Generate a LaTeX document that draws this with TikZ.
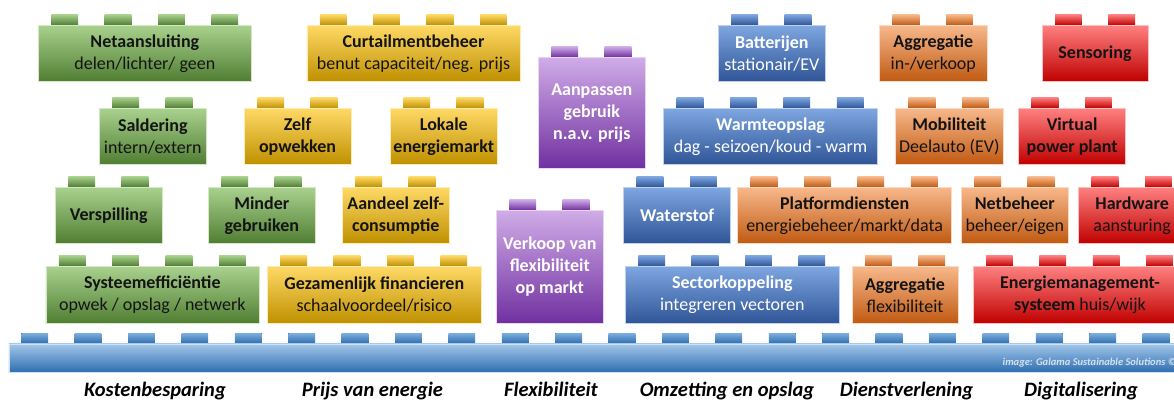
\documentclass[tikz,border=0pt]{standalone}
\usepackage{fontspec}
\setmainfont{Carlito}
\definecolor{gT}{HTML}{A9D18E}\definecolor{gM}{HTML}{70AD47}\definecolor{gB}{HTML}{507E32}
\definecolor{yT}{HTML}{FFD966}\definecolor{yM}{HTML}{FFC000}\definecolor{yB}{HTML}{BF9000}
\definecolor{pT}{HTML}{D0ACE8}\definecolor{pM}{HTML}{A05ACF}\definecolor{pB}{HTML}{7030A0}
\definecolor{bT}{HTML}{7EA6E0}\definecolor{bM}{HTML}{4472C4}\definecolor{bB}{HTML}{2F5597}
\definecolor{oT}{HTML}{F8B88B}\definecolor{oM}{HTML}{ED7D31}\definecolor{oB}{HTML}{C05A12}
\definecolor{rT}{HTML}{FF8080}\definecolor{rM}{HTML}{FF1A1A}\definecolor{rB}{HTML}{C00000}
\definecolor{lT}{HTML}{A2C6EA}\definecolor{lM}{HTML}{5B9BD5}\definecolor{lB}{HTML}{2E6EAF}
\definecolor{wmark}{HTML}{D5E1EF}
\definecolor{ink}{HTML}{141414}
\tikzset{
  brickbase/.style={inner sep=0pt, align=center, line width=0.6pt,
    font=\fontsize{18}{22}\selectfont},
  gbody/.style={top color=gT, middle color=gM, bottom color=gB, draw=gT!50!white, text=ink},
  ybody/.style={top color=yT, middle color=yM, bottom color=yB, draw=yT!50!white, text=ink},
  pbody/.style={top color=pT, middle color=pM, bottom color=pB, draw=pT!50!white, text=white},
  bbody/.style={top color=bT, middle color=bM, bottom color=bB, draw=bT!50!white, text=white},
  obody/.style={top color=oT, middle color=oM, bottom color=oB, draw=oT!50!white, text=ink},
  rbody/.style={top color=rT, middle color=rM, bottom color=rB, draw=rT!50!white, text=ink},
  gstud/.style={top color=gT, bottom color=gB},
  ystud/.style={top color=yT, bottom color=yB},
  pstud/.style={top color=pT, bottom color=pB},
  bstud/.style={top color=bT, bottom color=bB},
  ostud/.style={top color=oT, bottom color=oB},
  rstud/.style={top color=rT, bottom color=rB},
  lstud/.style={top color=lM!80!white, bottom color=lB},
  catlabel/.style={anchor=base, font=\fontsize{20.5}{24}\selectfont\bfseries\itshape, text=black},
}
% #1 name, #2 colour key, #3 x, #4 y, #5 width, #6 height, #7 studs, #8 text
\newcommand\brick[8]{%
  \foreach \k in {1,...,#7}{\fill[#2stud] ({#3+13.3+(\k-1)*53.4},{#4-10.5}) rectangle ++(26.7,10.5);}
  \node[brickbase,#2body,minimum width=#5pt,minimum height=#6pt,anchor=north west] (#1) at (#3,#4) {#8};
}
\begin{document}
\begin{tikzpicture}[x=1pt,y=-1pt]
\useasboundingbox (0,0) rectangle (1174,400);
\clip (0,0) rectangle (1174,400);
% row 1
\brick{neta}{g}{38}{25}{213}{56}{4}{\textbf{Netaansluiting}\\delen/lichter/ geen}
\brick{curt}{y}{306.5}{25}{213.5}{56}{4}{\textbf{Curtailmentbeheer}\\benut capaciteit/neg. prijs}
\brick{aanp}{p}{538}{57}{107}{111}{2}{\bfseries Aanpassen\\\bfseries gebruik\\\bfseries n.a.v. prijs}
\brick{batt}{b}{718}{25}{107}{56}{2}{\textbf{Batterijen}\\stationair/EV}
\brick{aggra}{o}{879.3}{25}{107.4}{56}{2}{\textbf{Aggregatie}\\in-/verkoop}
\brick{sens}{r}{1041.7}{25}{106}{56}{2}{\textbf{Sensoring}}
% row 2
\brick{sald}{g}{99}{108}{107}{56}{2}{\textbf{Saldering}\\intern/extern}
\brick{zelf}{y}{244}{108}{106.5}{56}{2}{\bfseries Zelf\\\bfseries opwekken}
\brick{lok}{y}{390}{108}{107}{56}{2}{\bfseries Lokale\\\bfseries energiemarkt}
\brick{warm}{b}{663.3}{108}{214}{56}{4}{\textbf{Warmteopslag}\\dag - seizoen/koud - warm}
\brick{mob}{o}{895.3}{108}{107.4}{56}{2}{\textbf{Mobiliteit}\\Deelauto (EV)}
\brick{vpp}{r}{1018.3}{108}{107}{56}{2}{\bfseries Virtual\\\bfseries power plant}
% row 3
\brick{versp}{g}{55}{187}{107}{56}{2}{\textbf{Verspilling}}
\brick{mind}{g}{208}{187}{107}{56}{2}{\bfseries Minder\\\bfseries gebruiken}
\brick{aand}{y}{342}{187}{107}{56}{2}{\bfseries Aandeel zelf-\\\bfseries consumptie}
\brick{verk}{p}{496}{210}{107}{113}{2}{\bfseries Verkoop van\\\bfseries flexibiliteit\\\bfseries op markt}
\brick{wat}{b}{623.3}{187}{107}{56}{2}{\textbf{Waterstof}}
\brick{plat}{o}{737.3}{187}{214}{56}{4}{\textbf{Platformdiensten}\\energiebeheer/markt/data}
\brick{netb}{o}{961}{187}{107}{56}{2}{\textbf{Netbeheer}\\beheer/eigen}
\brick{hard}{r}{1078.3}{187}{107}{56}{2}{\textbf{Hardware}\\aansturing}
% row 4
\brick{syst}{g}{45.5}{266}{213}{57}{4}{\textbf{Systeemefficiëntie}\\opwek / opslag / netwerk}
\brick{gez}{y}{267}{266}{214}{57}{4}{\textbf{Gezamenlijk financieren}\\schaalvoordeel/risico}
\brick{sect}{b}{625}{266}{214}{57}{4}{\textbf{Sectorkoppeling}\\integreren vectoren}
\brick{aggrb}{o}{851.7}{266}{106}{57}{2}{\textbf{Aggregatie}\\flexibiliteit}
\brick{ems}{r}{972.7}{266}{214}{57}{4}{\textbf{Energiemanagement-}\\\textbf{systeem} huis/wijk}
% base plate
\foreach \k in {0,...,21}{\fill[lstud] ({21.3+\k*53.4},333) rectangle ++(26.7,10.5);}
\node[inner sep=0pt, minimum width=1180pt, minimum height=28.5pt, anchor=north west,
  top color=lT, middle color=lM, bottom color=lB, draw=lT!50!white, line width=0.6pt] (base) at (8.6,343.5) {};
\node[anchor=base west, inner sep=0pt, text=wmark,
  font=\fontsize{10.5}{12}\selectfont\bfseries\itshape] (wm) at (1002.5,365.7) {image: Galama Sustainable Solutions ©};
% category labels
\node[catlabel] (kost) at (155,396) {Kostenbesparing};
\node[catlabel] (prijs) at (372.5,396) {Prijs van energie};
\node[catlabel] (flex) at (551,396) {Flexibiliteit};
\node[catlabel] (omz) at (727,396) {Omzetting en opslag};
\node[catlabel] (dienst) at (906.5,396) {Dienstverlening};
\node[catlabel] (digi) at (1081,396) {Digitalisering};
\end{tikzpicture}
\end{document}
